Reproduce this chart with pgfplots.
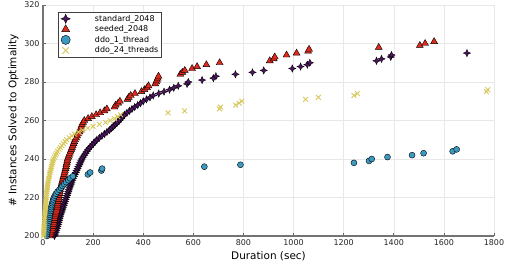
\documentclass[border=0pt]{standalone}
\usepackage{pgfplots}
\pgfplotsset{compat=1.18}
\usepackage{fontspec}
\setmainfont{DejaVu Sans}
\pgfdeclareplotmark{star4}{%
  \pgfpathmoveto{\pgfqpoint{0pt}{\pgfplotmarksize}}%
  \pgfpathlineto{\pgfqpoint{0.3\pgfplotmarksize}{0.3\pgfplotmarksize}}%
  \pgfpathlineto{\pgfqpoint{\pgfplotmarksize}{0pt}}%
  \pgfpathlineto{\pgfqpoint{0.3\pgfplotmarksize}{-0.3\pgfplotmarksize}}%
  \pgfpathlineto{\pgfqpoint{0pt}{-\pgfplotmarksize}}%
  \pgfpathlineto{\pgfqpoint{-0.3\pgfplotmarksize}{-0.3\pgfplotmarksize}}%
  \pgfpathlineto{\pgfqpoint{-\pgfplotmarksize}{0pt}}%
  \pgfpathlineto{\pgfqpoint{-0.3\pgfplotmarksize}{0.3\pgfplotmarksize}}%
  \pgfpathclose
  \pgfusepathqfillstroke}
\definecolor{cpurple}{RGB}{80,20,100}
\definecolor{cred}{RGB}{225,42,30}
\definecolor{cteal}{RGB}{60,154,193}
\definecolor{cyellow}{RGB}{214,200,90}
\begin{document}
\begin{tikzpicture}
\begin{axis}[
  scale only axis, width=451bp, height=231bp,
  xmin=0, xmax=1800, ymin=200, ymax=320,
  xtick={0,200,...,1800}, ytick={200,220,...,320},
  axis x line*=bottom, axis y line*=left,
  axis line style={draw=black!55, line width=1.2bp, -},
  tick align=inside, major tick length=3bp,
  tick style={draw=black!60, line width=0.6bp},
  grid=major, grid style={draw=black!9, line width=0.5bp},
  ticklabel style={font=\fontsize{8}{9}\selectfont, text=black!85},
  /pgf/number format/assume math mode=true,
  /pgf/number format/1000 sep={},
  xlabel={Duration (sec)}, ylabel={\# Instances Solved to Optimality},
  label style={font=\fontsize{10.5}{12}\selectfont},
  xlabel style={yshift=1bp},
  ylabel style={yshift=-1bp},
  legend cell align=left,
  legend style={at={(rel axis cs:0.033,0.97)}, anchor=north west,
    draw=black!75, line width=0.6bp, fill=white,
    font=\fontsize{8}{8.5}\selectfont, inner sep=1.5bp,
    row sep=0.4bp, nodes={inner sep=1.3bp}},
  legend image code/.code={\path[draw=none,fill=none] (-6bp,-3bp) rectangle (28bp,3bp); \draw[#1,mark size=4.6bp] plot coordinates {(0bp,0bp)};},
]
\addplot[only marks, mark=star4, mark size=3.6bp, draw=black, line width=0.4bp, fill=cpurple] coordinates {
(40,197)(42,198)(44,199)(46,200)(48,201)(51,202)(53,203)(56,204)(58,205)(60,206)
(62,207)(64,208)(66,209)(68,210)(70,211)(73,212)(75,213)(78,214)(80,215)(83,216)
(85,217)(88,218)(90,219)(93,220)(96,221)(98,222)(101,223)(103,224)(106,225)(109,226)
(112,227)(114,228)(117,229)(120,230)(124,231)(127,232)(131,233)(134,234)(138,235)(141,236)
(145,237)(148,238)(152,239)(155,240)(160,241)(165,242)(170,243)(175,244)(180,245)(187,246)
(194,247)(201,248)(208,249)(215,250)(225,251)(235,252)(245,253)(255,254)(265,255)(273,256)
(281,257)(289,258)(297,259)(305,260)(312,261)(318,262)(325,263)(335,264)(345,265)(355,266)
(366,267)(378,268)(389,269)(400,270)(413,271)(427,272)(440,273)(462,274)(483,275)(505,276)
(522,277)(540,278)(575,279)(580,280)(635,281)(680,282)(690,283)(768,284)(836,285)(881,286)
(995,287)(1028,288)(1055,289)(1065,290)(1331,291)(1351,292)(1388,293)(1391,294)(1692,295)
};
\addlegendentry{standard\_2048}
\addplot[only marks, mark=triangle*, mark size=4bp, draw=black, line width=0.4bp, fill=cred] coordinates {
(22,197)(24,198)(26,199)(28,200)(31,201)(33,202)(36,203)(38,204)(40,205)(42,206)
(43,207)(45,208)(46,209)(48,210)(50,211)(52,212)(54,213)(55,214)(57,215)(58,216)
(59,217)(60,218)(62,219)(63,220)(64,221)(66,222)(67,223)(68,224)(70,225)(72,226)
(74,227)(76,228)(78,229)(80,230)(82,231)(84,232)(86,233)(88,234)(90,235)(92,236)
(93,237)(95,238)(97,239)(98,240)(101,241)(104,242)(107,243)(110,244)(113,245)(116,246)
(119,247)(122,248)(125,249)(128,250)(132,251)(136,252)(140,253)(145,254)(148,255)(151,256)
(153,257)(156,258)(160,259)(165,260)(180,261)(195,262)(212,263)(228,264)(245,265)(255,266)
(285,267)(290,268)(300,269)(307,270)(337,271)(342,272)(350,273)(367,274)(393,275)(405,276)
(415,277)(421,278)(448,279)(452,280)(455,281)(458,282)(461,283)(548,284)(556,285)(566,286)
(595,287)(615,288)(652,289)(705,290)(905,291)(921,292)(925,293)(972,294)(1012,295)(1058,296)
(1062,297)(1340,298)(1504,299)(1525,300)(1561,301)
};
\addlegendentry{seeded\_2048}
\addplot[only marks, mark=*, mark size=3bp, draw=black, line width=0.4bp, fill=cteal] coordinates {
(12,197)(13,198)(14,199)(15,200)(16,201)(17,202)(18,203)(19,204)(20,205)(21,206)
(22,207)(24,208)(25,209)(26,210)(27,211)(28,212)(30,213)(31,214)(33,215)(35,216)
(37,217)(39,218)(41,219)(44,220)(48,221)(52,222)(58,223)(65,224)(72,225)(78,226)
(85,227)(92,228)(101,229)(108,230)(119,231)(179,232)(188,233)(233,234)(236,235)(644,236)
(788,237)(1241,238)(1301,239)(1312,240)(1375,241)(1473,242)(1519,243)(1635,244)(1651,245)
};
\addlegendentry{ddo\_1\_thread}
\addplot[only marks, mark=x, mark size=3.4bp, draw=cyellow, line width=0.9bp] coordinates {
(1,197)(1.5,198)(2,199)(2,200)(2.5,201)(3,202)(3.5,203)(4,204)(4,205)(5,206)
(5,207)(6,208)(6,209)(7,210)(7,211)(8,212)(9,213)(9,214)(10,215)(11,216)
(11,217)(12,218)(13,219)(13,220)(14,221)(15,222)(16,223)(16,224)(17,225)(18,226)
(19,227)(20,228)(22,229)(23,230)(25,231)(26,232)(28,233)(30,234)(32,235)(34,236)
(36,237)(38,238)(40,239)(42,240)(46,241)(50,242)(54,243)(58,244)(64,245)(69,246)
(75,247)(82,248)(88,249)(95,250)(105,251)(115,252)(125,253)(142,254)(158,255)(179,256)
(200,257)(225,258)(250,259)(268,260)(285,261)(298,262)(310,263)(499,264)(565,265)(704,266)
(708,267)(769,268)(783,269)(793,270)(1048,271)(1099,272)(1241,273)(1255,274)(1770,275)(1775,276)
};
\addlegendentry{ddo\_24\_threads}
\end{axis}
\pgfresetboundingbox
\useasboundingbox (-43bp,-30bp) rectangle (462bp,236bp);
\end{tikzpicture}
\end{document}
